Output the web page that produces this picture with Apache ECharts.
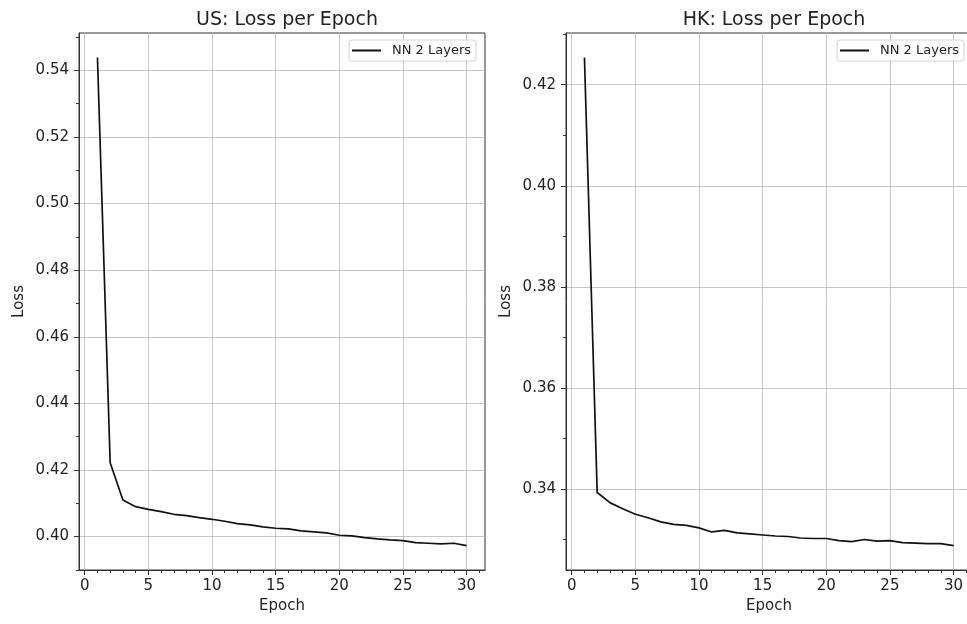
<!DOCTYPE html>
<html>
<head>
<meta charset="utf-8">
<script src="https://cdn.jsdelivr.net/npm/echarts@6/dist/echarts.min.js"></script>
<style>
  html, body { margin: 0; padding: 0; background: #fff; }
  #chart { width: 967px; height: 624px; }
</style>
</head>
<body>
<div id="chart"></div>
<script>
const epochs = [1, 2, 3, 4, 5, 6, 7, 8, 9, 10, 11, 12, 13, 14, 15,
  16, 17, 18, 19, 20, 21, 22, 23, 24, 25, 26, 27, 28, 29, 30];

const usLoss = [0.5439, 0.4222, 0.4110, 0.4090, 0.4082, 0.4075, 0.4067, 0.4063, 0.4057, 0.4052,
  0.4046, 0.4039, 0.4035, 0.4029, 0.4025, 0.4023, 0.4017, 0.4014, 0.4011, 0.4004,
  0.4002, 0.3997, 0.3993, 0.3990, 0.3988, 0.3982, 0.3980, 0.3978, 0.3980, 0.3973];

const hkLoss = [0.4254, 0.3393, 0.3373, 0.3361, 0.3350, 0.3343, 0.3335, 0.3330, 0.3328, 0.3323,
  0.3315, 0.3318, 0.3313, 0.3311, 0.3309, 0.3307, 0.3306, 0.3303, 0.3302, 0.3302,
  0.3298, 0.3296, 0.3300, 0.3297, 0.3298, 0.3294, 0.3293, 0.3292, 0.3292, 0.3288];

const xTicks = [0, 5, 10, 15, 20, 25, 30];
const xMinorTicks = [0, 1, 2, 3, 4, 5, 6, 7, 8, 9, 10, 11, 12, 13, 14, 15,
  16, 17, 18, 19, 20, 21, 22, 23, 24, 25, 26, 27, 28, 29, 30, 31];
const usTicks = [0.40, 0.42, 0.44, 0.46, 0.48, 0.50, 0.52, 0.54];
const usMinorTicks = [0.39, 0.40, 0.41, 0.42, 0.43, 0.44, 0.45, 0.46, 0.47, 0.48,
  0.49, 0.50, 0.51, 0.52, 0.53, 0.54, 0.55];
const hkTicks = [0.34, 0.36, 0.38, 0.40, 0.42];
const hkMinorTicks = [0.33, 0.34, 0.35, 0.36, 0.37, 0.38, 0.39, 0.40, 0.41, 0.42, 0.43];

const seriesName = 'NN 2 Layers';
const font = 'DejaVu Sans';
const ink = '#222';
const spine = '#333';
const gridColor = '#b8b8b8';

// matplotlib-style 5% padding around the data
function pad(vals) {
  const lo = Math.min(...vals), hi = Math.max(...vals);
  const m = (hi - lo) * 0.05;
  return [lo - m, hi + m];
}
const xRange = pad(epochs);
const usRange = pad(usLoss);
const hkRange = pad(hkLoss);

function mainX(grid) {
  return {
    type: 'value', gridIndex: grid, position: 'bottom',
    min: xRange[0], max: xRange[1],
    name: 'Epoch', nameLocation: 'middle', nameGap: 29,
    nameTextStyle: { fontFamily: font, fontSize: 15, color: ink },
    axisLine: { show: true, onZero: false, lineStyle: { color: spine, width: 1 } },
    axisTick: { show: true, length: 5, customValues: xTicks, lineStyle: { color: spine } },
    axisLabel: { customValues: xTicks, margin: 9, fontFamily: font, fontSize: 15, color: ink },
    splitLine: { show: true, lineStyle: { color: gridColor, width: 0.8 } }
  };
}
function minorX(grid) {
  return {
    type: 'value', gridIndex: grid, position: 'bottom',
    min: xRange[0], max: xRange[1],
    axisLine: { show: false, onZero: false },
    axisTick: { show: true, length: 3, customValues: xMinorTicks, lineStyle: { color: spine } },
    axisLabel: { show: false },
    splitLine: { show: false }
  };
}
function mainY(grid, range, ticks) {
  return {
    type: 'value', gridIndex: grid, position: 'left',
    min: range[0], max: range[1],
    name: 'Loss', nameLocation: 'middle', nameGap: 52, nameRotate: 90,
    nameTextStyle: { fontFamily: font, fontSize: 15, color: ink },
    axisLine: { show: true, onZero: false, lineStyle: { color: spine, width: 1 } },
    axisTick: { show: true, length: 5, customValues: ticks, lineStyle: { color: spine } },
    axisLabel: {
      customValues: ticks, margin: 10, fontFamily: font, fontSize: 15, color: ink,
      formatter: v => v.toFixed(2)
    },
    splitLine: { show: true, lineStyle: { color: gridColor, width: 0.8 } }
  };
}
function minorY(grid, range, ticks) {
  return {
    type: 'value', gridIndex: grid, position: 'left',
    min: range[0], max: range[1],
    axisLine: { show: false, onZero: false },
    axisTick: { show: true, length: 3, customValues: ticks, lineStyle: { color: spine } },
    axisLabel: { show: false },
    splitLine: { show: false }
  };
}
function legendAt(left) {
  return {
    left: left, top: 40, orient: 'horizontal',
    data: [seriesName],
    // line sample plus an empty point to leave matplotlib's wider gap before the text
    icon: 'path://M0,0H29V2H0Z M35,1L35,1',
    itemWidth: 35, itemHeight: 2,
    padding: [4, 5, 4, 3],
    borderColor: '#d4d4d4', borderWidth: 1, borderRadius: 3,
    backgroundColor: 'rgba(255,255,255,0.8)',
    textStyle: { fontFamily: font, fontSize: 13, color: ink }
  };
}
function lineSeries(data, axisIdx) {
  return {
    name: seriesName, type: 'line',
    xAxisIndex: axisIdx, yAxisIndex: axisIdx,
    data: epochs.map((e, i) => [e, data[i]]),
    showSymbol: false, symbol: 'none',
    itemStyle: { color: '#111' },
    lineStyle: { color: '#111', width: 1.7 },
    animation: false
  };
}

const chart = echarts.init(document.getElementById('chart'));
chart.setOption({
  animation: false,
  backgroundColor: '#fff',
  title: [
    { text: 'US: Loss per Epoch', left: 282, top: 6, textAlign: 'center',
      textStyle: { fontFamily: font, fontSize: 19, fontWeight: 'normal', color: ink } },
    { text: 'HK: Loss per Epoch', left: 769, top: 6, textAlign: 'center',
      textStyle: { fontFamily: font, fontSize: 19, fontWeight: 'normal', color: ink } }
  ],
  legend: [legendAt(349), legendAt(837)],
  grid: [
    { left: 79, top: 33, width: 406, height: 537, show: true, borderColor: spine, borderWidth: 1,
      outerBoundsMode: 'none' },
    // the HK panel runs past the right edge of the picture, as in the original figure
    { left: 566, top: 33, width: 406, height: 537, show: true, borderColor: spine, borderWidth: 1,
      outerBoundsMode: 'none' }
  ],
  xAxis: [mainX(0), minorX(0), mainX(1), minorX(1)],
  yAxis: [
    mainY(0, usRange, usTicks), minorY(0, usRange, usMinorTicks),
    mainY(1, hkRange, hkTicks), minorY(1, hkRange, hkMinorTicks)
  ],
  series: [lineSeries(usLoss, 0), lineSeries(hkLoss, 2)]
});
</script>
</body>
</html>
